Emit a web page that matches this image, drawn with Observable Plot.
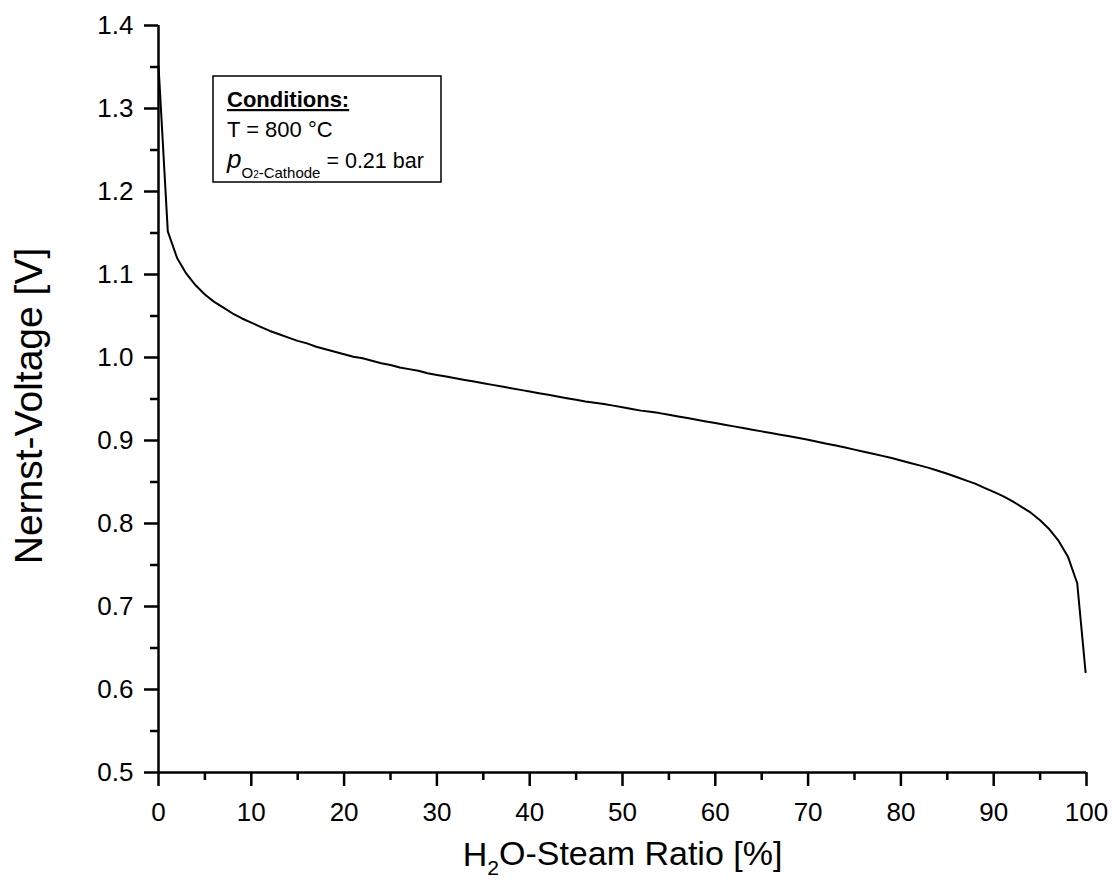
<!DOCTYPE html>
<html>
<head>
<meta charset="utf-8">
<script src="https://cdn.jsdelivr.net/npm/d3@7"></script>
<script src="https://cdn.jsdelivr.net/npm/@observablehq/plot@0.6"></script>
<style>
  body { margin: 0; background: #fff; }
  #wrap { width: 1118px; height: 889px; }
</style>
</head>
<body>
<div id="wrap"></div>
<script>
// H2O-steam ratio [%]
const steamRatio = [0, 1, 2, 3, 4, 5, 6, 7, 8, 9,
  10, 11, 12, 13, 14, 15, 16, 17, 18, 19,
  20, 21, 22, 23, 24, 25, 26, 27, 28, 29,
  30, 31, 32, 33, 34, 35, 36, 37, 38, 39,
  40, 41, 42, 43, 44, 45, 46, 47, 48, 49,
  50, 51, 52, 53, 54, 55, 56, 57, 58, 59,
  60, 61, 62, 63, 64, 65, 66, 67, 68, 69,
  70, 71, 72, 73, 74, 75, 76, 77, 78, 79,
  80, 81, 82, 83, 84, 85, 86, 87, 88, 89,
  90, 91, 92, 93, 94, 95, 96, 97, 98, 99, 99.9];
// Nernst voltage [V]
const nernstVoltage = [1.352, 1.152, 1.120, 1.101, 1.087, 1.076, 1.067, 1.060, 1.053, 1.047,
  1.042, 1.037, 1.032, 1.028, 1.024, 1.020, 1.017, 1.013, 1.010, 1.007,
  1.004, 1.001, 0.999, 0.996, 0.993, 0.991, 0.988, 0.986, 0.984, 0.981,
  0.979, 0.977, 0.975, 0.973, 0.971, 0.969, 0.967, 0.965, 0.963, 0.961,
  0.959, 0.957, 0.955, 0.953, 0.951, 0.949, 0.947, 0.9455, 0.944, 0.942,
  0.940, 0.938, 0.936, 0.9345, 0.933, 0.931, 0.929, 0.927, 0.925, 0.923,
  0.921, 0.919, 0.917, 0.915, 0.913, 0.911, 0.909, 0.907, 0.905, 0.903,
  0.901, 0.8985, 0.896, 0.894, 0.8915, 0.889, 0.8865, 0.884, 0.8815, 0.879,
  0.876, 0.873, 0.870, 0.867, 0.8635, 0.860, 0.856, 0.852, 0.848, 0.843,
  0.838, 0.833, 0.827, 0.820, 0.813, 0.804, 0.793, 0.779, 0.760, 0.728, 0.621];

const xTicks = [0, 10, 20, 30, 40, 50, 60, 70, 80, 90, 100];
const xMinorTicks = [5, 15, 25, 35, 45, 55, 65, 75, 85, 95];
const yTicks = [0.5, 0.6, 0.7, 0.8, 0.9, 1.0, 1.1, 1.2, 1.3, 1.4];
const yMinorTicks = [0.55, 0.65, 0.75, 0.85, 0.95, 1.05, 1.15, 1.25, 1.35];

const xLabel = "H2O-Steam Ratio [%]";
const yLabel = "Nernst-Voltage [V]";
const legendTitle = "Conditions:";
const legendTemp = "T = 800 °C";
const legendPressure = " = 0.21 bar";

const FONT = '"Liberation Sans", Arial, Helvetica, sans-serif';
const data = steamRatio.map((x, i) => ({x, y: nernstVoltage[i]}));

const plot = Plot.plot({
  width: 1118,
  height: 889,
  marginLeft: 158,
  marginRight: 32,
  marginTop: 25,
  marginBottom: 117,
  style: {fontFamily: FONT, background: "white", color: "black"},
  x: {domain: [0, 100]},
  y: {domain: [0.5, 1.4]},
  marks: [
    Plot.axisX(xTicks, {tickSize: 14, strokeWidth: 2.5, fontSize: 26, tickPadding: 16, label: null}),
    Plot.axisX(xMinorTicks, {tickSize: 8, strokeWidth: 2.5, text: null, label: null}),
    Plot.axisY(yTicks, {tickSize: 14, strokeWidth: 2.5, fontSize: 26, tickPadding: 11, label: null, tickFormat: d3.format(".1f")}),
    Plot.axisY(yMinorTicks, {tickSize: 8, strokeWidth: 2.5, text: null, label: null}),
    Plot.ruleY([0.5], {stroke: "black", strokeWidth: 2.5}),
    Plot.ruleX([0], {stroke: "black", strokeWidth: 2.5}),
    Plot.line(data, {x: "x", y: "y", stroke: "black", strokeWidth: 2}),
    Plot.text([xLabel], {text: d => d, frameAnchor: "bottom", textAnchor: "middle", lineAnchor: "bottom", dy: 93, fontSize: 34, fill: "black"}),
    Plot.text([yLabel], {text: d => d, frameAnchor: "left", textAnchor: "middle", lineAnchor: "middle", dx: -129, dy: 7, rotate: -90, fontSize: 39, fill: "black"})
  ]
});

document.getElementById("wrap").appendChild(plot);

const svg = d3.select(plot);
// subscript in x label
svg.selectAll("text").filter(function() { return this.textContent === xLabel; }).each(function() {
  const t = d3.select(this);
  t.text(null);
  t.append("tspan").text("H");
  t.append("tspan").attr("dy", "0.45em").attr("font-size", "0.62em").text("2");
  t.append("tspan").attr("dy", "-0.28em").text("O-Steam Ratio [%]");
});

// conditions box
const g = svg.append("g").attr("font-family", FONT).attr("fill", "black").attr("text-anchor", "start");
g.append("rect").attr("x", 213).attr("y", 76).attr("width", 228).attr("height", 106)
  .attr("fill", "white").attr("stroke", "black").attr("stroke-width", 1.5);
g.append("text").attr("x", 227).attr("y", 107).attr("font-size", 22).attr("font-weight", "bold")
  .attr("text-decoration", "underline").text(legendTitle);
g.append("text").attr("x", 227).attr("y", 137).attr("font-size", 22).text(legendTemp);
const t3 = g.append("text").attr("x", 227).attr("y", 168).attr("font-size", 22);
t3.append("tspan").attr("font-style", "italic").attr("font-size", 26).text("p");
t3.append("tspan").attr("font-size", 15).attr("dy", 10).text("O");
t3.append("tspan").attr("font-size", 10).text("2");
t3.append("tspan").attr("font-size", 15).text("-Cathode");
t3.append("tspan").attr("dy", -10).attr("font-size", 21.5).text(legendPressure);
</script>
</body>
</html>
